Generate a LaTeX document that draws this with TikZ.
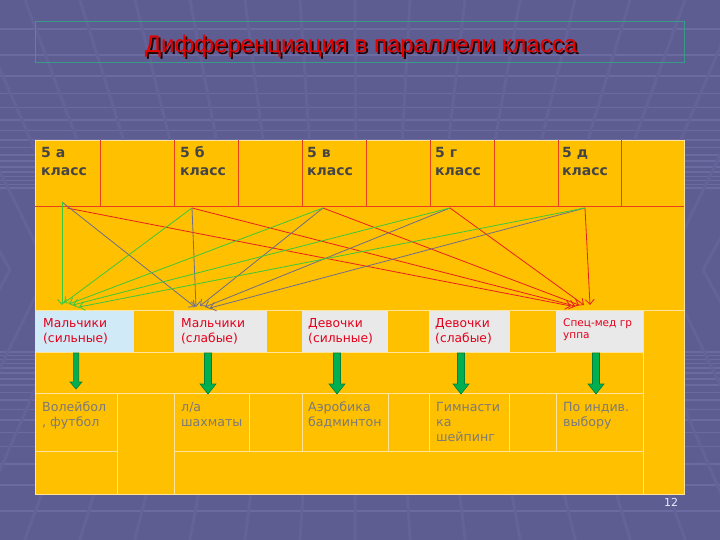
\documentclass[tikz,border=0pt]{standalone}
\usepackage{fontspec}
\setmainfont{DejaVu Sans}
\newfontfamily\titlefont{Liberation Sans}
\usetikzlibrary{arrows.meta}
\definecolor{bgc}{HTML}{5D5D92}
\definecolor{bgl}{HTML}{6B6BA2}
\definecolor{bgs}{HTML}{636399}
\definecolor{tblo}{HTML}{FFC000}
\definecolor{gridr}{HTML}{E8401C}
\definecolor{gridl}{HTML}{FFE49A}
\definecolor{cellb}{HTML}{D0EAF8}
\definecolor{cellg}{HTML}{E9E9E9}
\definecolor{lblred}{HTML}{E3001B}
\definecolor{txtd}{HTML}{454545}
\definecolor{txtg}{HTML}{7A7A7A}
\definecolor{lgreen}{HTML}{3CC83C}
\definecolor{lgray}{HTML}{6C6C8C}
\definecolor{lred}{HTML}{E82020}
\definecolor{agreen}{HTML}{00B050}
\definecolor{agreend}{HTML}{00803A}
\definecolor{tealb}{HTML}{3A9A8A}
\tikzset{
  toptext/.style={anchor=base west, inner sep=0pt, text=txtd, font=\fontsize{14}{18}\selectfont\bfseries},
  lbltext/.style={anchor=base west, inner sep=0pt, text=lblred, font=\fontsize{12.3}{15}\selectfont},
  spectext/.style={anchor=base west, inner sep=0pt, text=lblred, font=\fontsize{10.5}{12.5}\selectfont},
  lowtext/.style={anchor=base west, inner sep=0pt, text=txtg, font=\fontsize{12.6}{15.3}\selectfont},
  redgrid/.style={draw=gridr, line width=0.8pt},
  lightgrid/.style={draw=gridl, line width=0.8pt},
  conn/.style={line width=0.8pt, -{Straight Barb[length=5pt,width=9pt]}},
  fatarrow/.style={fill=agreen, draw=agreend, line width=0.6pt},
  titlestyle/.style={anchor=base, inner sep=0pt, font=\fontsize{24}{28}\selectfont\titlefont}
}
\begin{document}
\begin{tikzpicture}[x=1pt,y=-1pt]
\useasboundingbox (0,0) rectangle (720,540);
% background
\fill[bgc] (0,0) rectangle (720,540);
\foreach \k in {-3,...,14} {
  \pgfmathsetmacro\d{1/(0.00515+0.0005*\k)}
  \draw[bgl, line width=1.5pt] (0,270-\d) -- (720,270-\d);
  \draw[bgl, line width=1.5pt] (0,270+\d) -- (720,270+\d);
}
\foreach \x in {-360,-305,...,1080} {
  \pgfmathsetmacro\xm{\x+(360-\x)*0.3}
  \pgfmathsetmacro\xb{\xm+0.43*(\xm-360)}
  \draw[bgs, line width=3pt] (\x,0) -- (\xm,270) -- (\xb,540);
}
% title
\node[draw=tealb, line width=0.8pt, minimum width=649pt, minimum height=41pt, anchor=north west, inner sep=0pt] (titlebox) at (35,21) {};
\node[titlestyle, text=black!85!red] (titleshadow) at (363,55) {Дифференциация в параллели класса};
\node[titlestyle, text=red!90!black] (title) at (361,53) {Дифференциация в параллели класса};
% table body
\fill[tblo] (35,140) rectangle (684,494);
\fill[cellb] (35,310) rectangle (134,352);
\fill[cellg] (174,310) rectangle (267,352);
\fill[cellg] (302,310) rectangle (388,352);
\fill[cellg] (429,310) rectangle (510,352);
\fill[cellg] (556,310) rectangle (643,352);
% light grid
\draw[lightgrid] (35,140) rectangle (684,494);
\draw[lightgrid] (35,310) -- (684,310);
\draw[lightgrid] (35,352) -- (643,352);
\draw[lightgrid] (35,393) -- (643,393);
\draw[lightgrid] (35,451) -- (117,451);
\draw[lightgrid] (174,451) -- (643,451);
\draw[lightgrid] (643,310) -- (643,494);
\foreach \x in {117,174} \draw[lightgrid] (\x,393) -- (\x,494);
\foreach \x in {249,302,388,429,509,556} \draw[lightgrid] (\x,393) -- (\x,451);
% red grid
\draw[redgrid] (35,206) -- (684,206);
\foreach \x in {100,174,238,302,366,430,494,558,621} \draw[redgrid] (\x,140) -- (\x,206);
% header texts
\node[toptext] (ca) at (41,158) {\parbox[t]{60pt}{5 а\\класс}};
\node[toptext] (cb) at (180,158) {\parbox[t]{60pt}{5 б\\класс}};
\node[toptext] (cv) at (307,158) {\parbox[t]{60pt}{5 в\\класс}};
\node[toptext] (cg) at (435,158) {\parbox[t]{60pt}{5 г\\класс}};
\node[toptext] (cd) at (562,158) {\parbox[t]{60pt}{5 д\\класс}};
% group labels
\node[lbltext] (bs) at (43,327) {\parbox[t]{90pt}{Мальчики\\(сильные)}};
\node[lbltext] (bw) at (181,327) {\parbox[t]{90pt}{Мальчики\\(слабые)}};
\node[lbltext] (gs) at (308,327) {\parbox[t]{90pt}{Девочки\\(сильные)}};
\node[lbltext] (gw) at (435,327) {\parbox[t]{90pt}{Девочки\\(слабые)}};
\node[spectext] (sp) at (563,326) {\parbox[t]{90pt}{Спец-мед гр\\уппа}};
% activity texts
\node[lowtext] (a1) at (42,411) {\parbox[t]{90pt}{Волейбол\\, футбол}};
\node[lowtext] (a2) at (181,411) {\parbox[t]{90pt}{л/а\\шахматы}};
\node[lowtext] (a3) at (308,411) {\parbox[t]{90pt}{Аэробика\\бадминтон}};
\node[lowtext] (a4) at (436,411) {\parbox[t]{90pt}{Гимнасти\\ка\\шейпинг}};
\node[lowtext] (a5) at (563,411) {\parbox[t]{90pt}{По индив.\\выбору}};
% green block arrows
\foreach \x/\t/\s/\h/\b in {76/389/2.7/6/382, 208/394/3.5/8/384, 337/394/3.5/8/384, 461/394/3.5/8/384, 596/394/3.5/8/384} {
  \draw[fatarrow] (\x-\s,353) -- (\x+\s,353) -- (\x+\s,\b) -- (\x+\h,\b) -- (\x,\t) -- (\x-\h,\b) -- (\x-\s,\b) -- cycle;
}
% connector end points
\coordinate (s1) at (62,202);
\coordinate (s1r) at (67,208);
\coordinate (s2) at (192,208);
\coordinate (s3) at (323,208);
\coordinate (s4) at (450,208);
\coordinate (s5) at (585,208);
\coordinate (g1) at (62,305);
\coordinate (g2) at (64,303);
\coordinate (g3) at (69,304);
\coordinate (g4) at (73,305);
\coordinate (g5) at (79,307);
\coordinate (q1) at (195,307);
\coordinate (q2) at (196,307);
\coordinate (q3) at (200,306);
\coordinate (q4) at (205,307);
\coordinate (q5) at (210,308);
\coordinate (r1) at (571,306);
\coordinate (r2) at (575,306);
\coordinate (r3) at (579,305);
\coordinate (r4) at (584,305);
\coordinate (r5) at (590,305);
% connectors
\draw[conn, lred] (s1r) -- (r1);
\draw[conn, lred] (s2) -- (r2);
\draw[conn, lred] (s3) -- (r3);
\draw[conn, lred] (s4) -- (r4);
\draw[conn, lred] (s5) -- (r5);
\draw[conn, lgray] (s1) -- (q1);
\draw[conn, lgray] (s2) -- (q2);
\draw[conn, lgray] (s3) -- (q3);
\draw[conn, lgray] (s4) -- (q4);
\draw[conn, lgray] (s5) -- (q5);
\draw[conn, lgreen] (s1) -- (g1);
\draw[conn, lgreen] (s2) -- (g2);
\draw[conn, lgreen] (s3) -- (g3);
\draw[conn, lgreen] (s4) -- (g4);
\draw[conn, lgreen] (s5) -- (g5);
% page number
\node[inner sep=0pt, text=white!92!blue, font=\fontsize{11}{12}\selectfont] (pg) at (671,502) {12};
\end{tikzpicture}
\end{document}
